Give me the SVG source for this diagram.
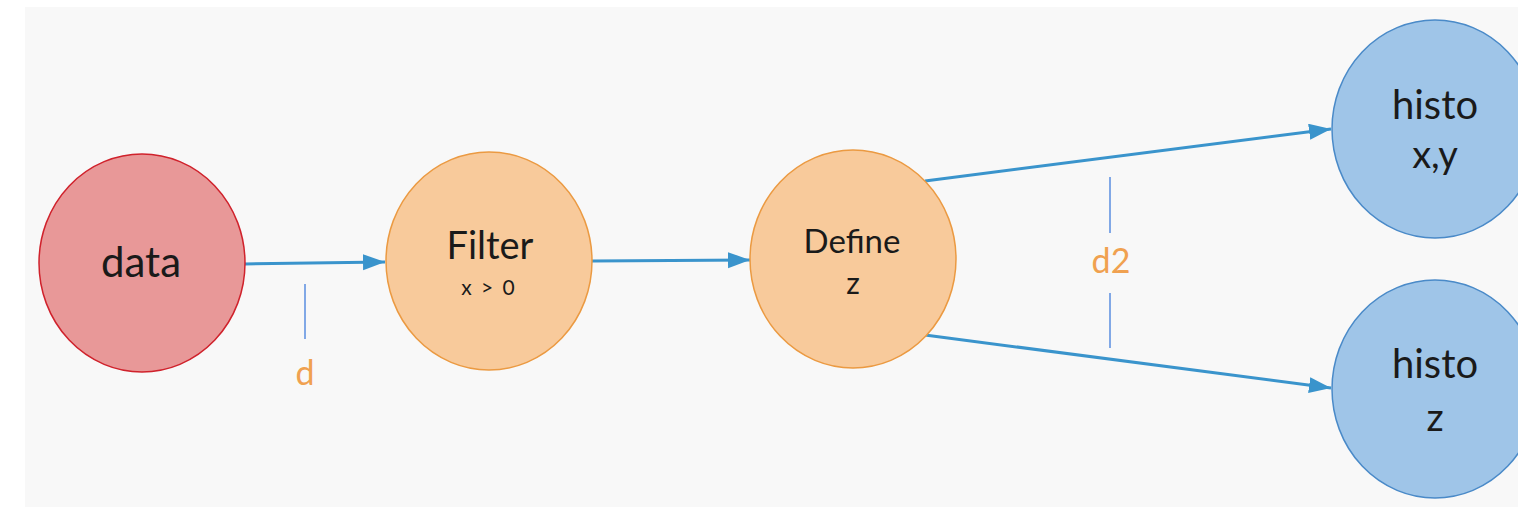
<svg xmlns="http://www.w3.org/2000/svg" width="1518" height="508" viewBox="0 0 1518 508">
  <style>
    .node-text { font-family: Lato, "Open Sans", "Liberation Sans", sans-serif; fill: #1a1a1a; text-anchor: middle; }
    .red { fill: #e89898; stroke: #d0222c; stroke-width: 1.5; }
    .orange { fill: #f8ca9b; stroke: #eb9a42; stroke-width: 1.5; }
    .blue { fill: #9fc5e8; stroke: #4a8ac8; stroke-width: 1.5; }
    .edge { stroke: #3a94cc; stroke-width: 3; fill: none; marker-end: url(#arrow); }
    .tick { stroke: #5a8ee0; stroke-width: 1.5; }
    .label { font-family: Lato, "Open Sans", "Liberation Sans", sans-serif; fill: #f0a150; font-size: 34px; text-anchor: middle; }
  </style>
  <defs>
    <marker id="arrow" markerUnits="userSpaceOnUse" markerWidth="24" markerHeight="18" refX="22" refY="8" orient="auto">
      <path d="M0,0 L22,8 L0,16 Z" fill="#3a94cc"/>
    </marker>
  </defs>

  <!-- canvas -->
  <rect x="0" y="0" width="1518" height="508" fill="#ffffff"/>
  <rect x="25" y="7" width="1493" height="500" fill="#f8f8f8"/>

  <!-- connectors -->
  <g id="connectors">
    <line class="edge" x1="245" y1="264" x2="385" y2="262"/>
    <line class="edge" x1="592" y1="261" x2="750" y2="260"/>
    <line class="edge" x1="925" y1="181" x2="1331" y2="129"/>
    <line class="edge" x1="925" y1="335" x2="1331" y2="388"/>
    <line class="tick" x1="305" y1="284" x2="305" y2="339"/>
    <text class="label" x="305" y="385">d</text>
    <line class="tick" x1="1110" y1="177" x2="1110" y2="233"/>
    <line class="tick" x1="1110" y1="293" x2="1110" y2="348"/>
    <text class="label" x="1111" y="273">d2</text>
  </g>

  <g id="node-data">
    <ellipse class="red" cx="142" cy="263" rx="103" ry="109"/>
    <text class="node-text" x="141" y="277" font-size="42">data</text>
  </g>

  <g id="node-filter">
    <ellipse class="orange" cx="489" cy="261" rx="103" ry="109"/>
    <text class="node-text" x="490" y="259" font-size="38">Filter</text>
    <text class="node-text" x="489" y="295" font-size="21" letter-spacing="2">x &gt; 0</text>
  </g>

  <g id="node-define">
    <ellipse class="orange" cx="853" cy="259" rx="103" ry="109"/>
    <text class="node-text" x="852" y="253" font-size="33">Define</text>
    <text class="node-text" x="853" y="294" font-size="30">z</text>
  </g>

  <g id="node-histo-xy">
    <ellipse class="blue" cx="1435" cy="129" rx="103" ry="109"/>
    <text class="node-text" x="1435" y="119" font-size="40">histo</text>
    <text class="node-text" x="1435" y="168" font-size="38">x,y</text>
  </g>

  <g id="node-histo-z">
    <ellipse class="blue" cx="1435" cy="389" rx="103" ry="109"/>
    <text class="node-text" x="1435" y="378" font-size="40">histo</text>
    <text class="node-text" x="1435" y="431" font-size="38">z</text>
  </g>
</svg>
